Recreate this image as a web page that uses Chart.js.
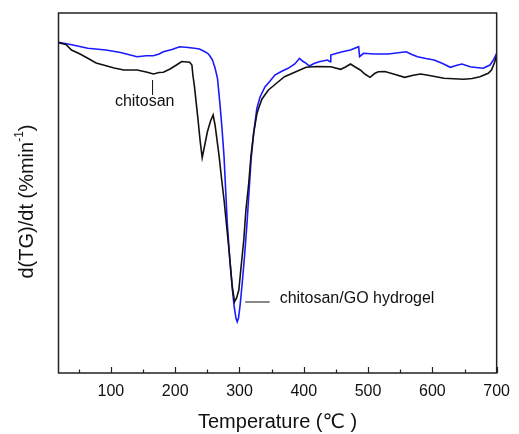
<!DOCTYPE html>
<html>
<head>
<meta charset="utf-8">
<script src="https://cdn.jsdelivr.net/npm/chart.js@4/dist/chart.umd.min.js"></script>
<style>
html,body{margin:0;padding:0;background:#fff;}
#wrap{width:519px;height:434px;position:relative;}
</style>
</head>
<body>
<div id="wrap"><canvas id="c" width="519" height="434"></canvas></div>
<script>
// Temperature (°C) for each series
const chitosanT = [18.5,30,38.7,52,64,77,89.7,105,120,140.7,155,166.3,175,181.6,192,202,210,214.8,222.5,226,227.5,230,235,239,242,246,250,255,259,262,268.4,272,276,280,283.7,288.8,292.3,295.5,299,302,306.7,310,314.4,318,322,327,329.7,335,345,358,370,385,403.6,420,442,457.4,465,472.6,480,487.9,495,503,510.8,516,526,541,556.8,572,582,597.6,618,633,648.6,662,674,686.9,692,697,700];
const chitosanV = [330.3,328.5,323,319,314.7,310,307.7,305,303,303,301,299,300.5,300.7,304,308,311.5,311.3,310.7,308,298,286.3,256.3,231,215.3,228,241,252,258,248,216.3,195,173,147,123,86.3,71.3,75,83,103,133,163,189.7,218,239.7,259,264.7,274,283,290,296.3,300.5,305.7,306.5,306.3,303.7,306,309,306,303,299,295.7,299.7,301.3,301.5,298.7,295.7,298,299,297.3,294.7,294.2,293.7,294.5,296.3,299.7,303,311,317.7];
const hydrogelT = [18.5,41,64,92.3,115,140.7,155,166,175,181.6,195,207,220,230,237.8,244,250.5,254,258,262,265.8,270,273,276,278.5,281,285,289,292,294.5,296.5,298.5,301,304,308,311.7,315,318,322,327,332,339.8,347,355,365,375.6,386,393.4,398,403.8,408.7,416,424,436.9,440.8,442,450,459.9,472.6,485.3,486.8,493,510,531.3,559.4,568,577,590,602.6,615,628,637,646,658.8,668,679,689.6,695,700];
const hydrogelV = [330.7,328,324.7,323,320.5,316.3,317.3,317.3,319,321.3,323.5,326.3,325.5,324.7,324,322,319.7,317,313,305,294.7,266.3,243,216.3,183,149.7,113,83,65,55,51.3,55,68,88,118,149.7,183,213,239.7,264.7,276,286.3,291.5,298,301.5,304.7,309,314.7,312,309.7,307,309.5,311.3,313,311.3,318,319.5,321.3,323,326.3,316.3,319.7,319,319,321.3,318.5,316.3,314.5,313,309.7,305.7,307.5,309,306.3,305.5,304.7,308,313,319.7];
const xTickLabels = [100,200,300,400,500,600,700];
const xMinorTicks = [50,150,250,350,450,550,650];
const seriesNames = ['chitosan','chitosan/GO hydrogel'];
const annotations = [
  {text:'chitosan', tx:152.6, ty:271.3, align:'center', line:[[164.8,293],[164.8,278]]},
  {text:'chitosan/GO hydrogel', tx:362.5, ty:74, align:'left', line:[[308.8,71],[347,71]]}
];

const FONT = '"Liberation Sans", Arial, "DejaVu Sans", sans-serif';
const toPts = (xs, ys) => xs.map((x,i)=>({x:x, y:ys[i]}));

const decor = {
  id:'decor',
  afterDraw(chart){
    const {ctx, chartArea:a, scales:{x, y}} = chart;
    ctx.save();
    // frame
    ctx.strokeStyle = '#222';
    ctx.lineWidth = 1.5;
    ctx.strokeRect(a.left, a.top, a.right - a.left, a.bottom - a.top);
    // inward ticks
    ctx.lineWidth = 1.2;
    ctx.beginPath();
    xTickLabels.forEach(v=>{ const px = Math.round(x.getPixelForValue(v))+0.5; ctx.moveTo(px,a.bottom); ctx.lineTo(px,a.bottom-6); });
    xMinorTicks.forEach(v=>{ const px = Math.round(x.getPixelForValue(v))+0.5; ctx.moveTo(px,a.bottom); ctx.lineTo(px,a.bottom-3.5); });
    ctx.stroke();
    // annotations
    ctx.fillStyle = '#111';
    ctx.strokeStyle = '#111';
    ctx.lineWidth = 1;
    ctx.font = '16px ' + FONT;
    ctx.textBaseline = 'middle';
    annotations.forEach(an=>{
      ctx.textAlign = an.align;
      ctx.fillText(an.text, x.getPixelForValue(an.tx), y.getPixelForValue(an.ty));
      ctx.beginPath();
      ctx.moveTo(x.getPixelForValue(an.line[0][0]), y.getPixelForValue(an.line[0][1]));
      ctx.lineTo(x.getPixelForValue(an.line[1][0]), y.getPixelForValue(an.line[1][1]));
      ctx.stroke();
    });
    // y title with superscript
    ctx.translate(27, 201.5);
    ctx.rotate(-Math.PI/2);
    ctx.font = '20px ' + FONT;
    ctx.textAlign = 'left';
    ctx.textBaseline = 'middle';
    const main = 'd(TG)/dt (%min', sup = '-1', end = ')';
    ctx.font = '20px ' + FONT; const w1 = ctx.measureText(main).width, w3 = ctx.measureText(end).width;
    ctx.font = '12px ' + FONT; const w2 = ctx.measureText(sup).width;
    const total = w1 + w2 + w3;
    let sx = -total/2;
    ctx.font = '20px ' + FONT; ctx.fillText(main, sx, 0); sx += w1;
    ctx.font = '12px ' + FONT; ctx.fillText(sup, sx, -7); sx += w2;
    ctx.font = '20px ' + FONT; ctx.fillText(end, sx, 0);
    ctx.restore();
  }
};

new Chart(document.getElementById('c'), {
  type:'line',
  data:{
    datasets:[
      {label:seriesNames[0], data:toPts(chitosanT, chitosanV), borderColor:'#111111', borderWidth:1.6, pointRadius:0, tension:0, fill:false},
      {label:seriesNames[1], data:toPts(hydrogelT, hydrogelV), borderColor:'#1a1aff', borderWidth:1.6, pointRadius:0, tension:0, fill:false}
    ]
  },
  options:{
    responsive:false,
    animation:false,
    devicePixelRatio:1,
    layout:{padding:{top:13, right:16, left:0, bottom:0}},
    plugins:{legend:{display:false}, tooltip:{enabled:false}},
    scales:{
      x:{
        type:'linear', min:18.5, max:700,
        afterBuildTicks(s){ s.ticks = xTickLabels.map(v=>({value:v})); },
        grid:{display:false, drawTicks:false},
        border:{display:false},
        ticks:{padding:9, color:'#111', font:{family:FONT, size:16}, maxRotation:0, autoSkip:false},
        title:{display:true, text:'Temperature (℃ )', color:'#111', font:{family:FONT, size:20}, padding:{top:4, bottom:0}},
        afterFit(s){ s.height = 61; }
      },
      y:{
        type:'linear', min:0, max:360,
        grid:{display:false, drawTicks:false},
        border:{display:false},
        ticks:{display:false},
        afterFit(s){ s.width = 58.5; }
      }
    }
  },
  plugins:[decor]
});
</script>
</body>
</html>
